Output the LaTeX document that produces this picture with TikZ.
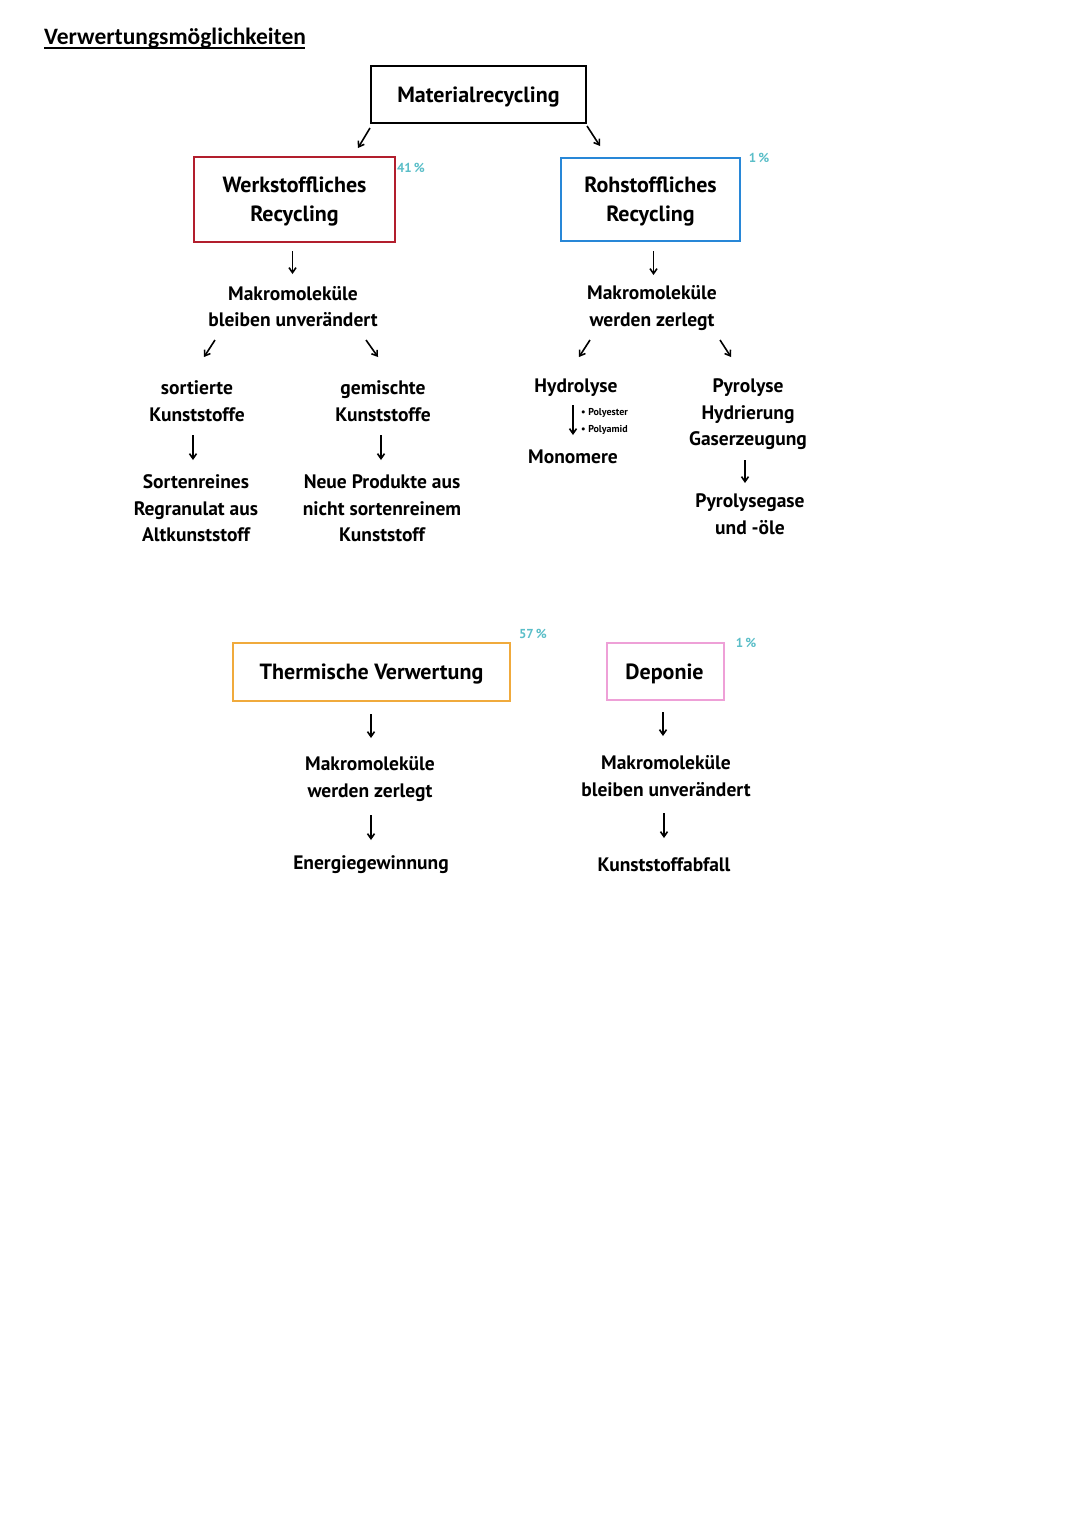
\documentclass[tikz,border=0pt]{standalone}
\usepackage{fontspec}
\setmainfont{PT Sans}
\newfontfamily\titlefont{Carlito}
\usetikzlibrary{arrows.meta}
\definecolor{boxred}{RGB}{178,30,45}
\definecolor{boxblue}{RGB}{40,135,215}
\definecolor{boxorange}{RGB}{240,170,60}
\definecolor{boxpink}{RGB}{238,160,215}
\definecolor{pct}{RGB}{90,190,200}
\tikzset{
  box/.style={draw, line width=2pt, inner sep=0pt},
  boxlbl/.style={inner sep=0pt, font=\bfseries\fontsize{22}{29}\selectfont, align=center},
  txt/.style={inner sep=0pt, align=center, font=\bfseries\fontsize{19.5}{26.5}\selectfont},
  pctlabel/.style={inner sep=0pt, text=pct, font=\bfseries\fontsize{13}{14}\selectfont},
  small/.style={inner sep=0pt, anchor=west, font=\bfseries\fontsize{10}{12}\selectfont},
  arr/.style={line width=1.6pt, -{Straight Barb[length=5pt,width=7pt]}}
}
\begin{document}
\begin{tikzpicture}[x=1pt,y=-1pt]
\useasboundingbox (0,0) rectangle (1080,1527);
\fill[white] (0,0) rectangle (1080,1527);
% title
\node[inner sep=0pt, anchor=base west] (title) at (44,44) {\titlefont\bfseries\fontsize{23.5}{26}\selectfont Verwertungsmöglichkeiten};
\draw[line width=1.8pt] (title.base west) ++(0,4) -- ++(261,0);
% boxes
\node[box, draw=black, minimum width=215pt, minimum height=57pt] (mat) at (478.5,94.5) {};
\node[boxlbl] (matl) at ([yshift=-3pt]mat.center) {Materialrecycling};
\node[box, draw=boxred, minimum width=201pt, minimum height=85pt] (werk) at (294.5,199.5) {};
\node[boxlbl] (werkl) at ([yshift=-2pt]werk.center) {Werkstoffliches\\Recycling};
\node[box, draw=boxblue, minimum width=179pt, minimum height=83pt] (roh) at (650.5,199.5) {};
\node[boxlbl] (rohl) at ([yshift=-2pt]roh.center) {Rohstoffliches\\Recycling};
\node[box, draw=boxorange, minimum width=277pt, minimum height=58pt] (therm) at (371.5,672) {};
\node[boxlbl] (thermlbl) at ([yshift=-2pt]therm.center) {Thermische Verwertung};
\node[box, draw=boxpink, minimum width=117pt, minimum height=57pt] (dep) at (665.5,671.5) {};
\node[boxlbl] (depl) at ([yshift=-2pt,xshift=-1pt]dep.center) {Deponie};
% percentages
\node[pctlabel] (p41) at (411,168) {41\,\%};
\node[pctlabel] (p1a) at (759,158) {1\,\%};
\node[pctlabel] (p57) at (533,634) {57\,\%};
\node[pctlabel] (p1b) at (746,643) {1\,\%};
% texts left branch
\node[txt] (mak1) at (293,306.5) {Makromoleküle\\bleiben unverändert};
\node[txt] (sort) at (197,401) {sortierte\\Kunststoffe};
\node[txt] (gem) at (383,401) {gemischte\\Kunststoffe};
\node[txt] (sortr) at (196,508.5) {Sortenreines\\Regranulat aus\\Altkunststoff};
\node[txt] (neue) at (382,508.5) {Neue Produkte aus\\nicht sortenreinem\\Kunststoff};
% texts right branch
\node[txt] (mak2) at (652,308) {Makromoleküle\\werden zerlegt};
\node[txt] (hydro) at (576,388) {Hydrolyse};
\node[small] (polye) at (581,413) {• Polyester};
\node[small] (polya) at (581,430) {• Polyamid};
\node[txt] (mono) at (573,457) {Monomere};
\node[txt] (pyro) at (748,414.5) {Pyrolyse\\Hydrierung\\Gaserzeugung};
\node[txt] (pgas) at (750,514) {Pyrolysegase\\und -öle};
% bottom texts
\node[txt] (mak3) at (370,779) {Makromoleküle\\werden zerlegt};
\node[txt] (mak4) at (666,776) {Makromoleküle\\bleiben unverändert};
\node[txt] (energ) at (371,865) {Energiegewinnung};
\node[txt] (abfall) at (664,865) {Kunststoffabfall};
% arrows: diagonal
\coordinate (d1s) at (370,128); \coordinate (d1e) at (358,148);
\coordinate (d2s) at (587,126); \coordinate (d2e) at (600,146);
\coordinate (d3s) at (215,340); \coordinate (d3e) at (204,357);
\coordinate (d4s) at (366,340); \coordinate (d4e) at (378,357);
\coordinate (d5s) at (590,340); \coordinate (d5e) at (579,357);
\coordinate (d6s) at (720,340); \coordinate (d6e) at (731,357);
\draw[arr] (d1s) -- (d1e);
\draw[arr] (d2s) -- (d2e);
\draw[arr] (d3s) -- (d3e);
\draw[arr] (d4s) -- (d4e);
\draw[arr] (d5s) -- (d5e);
\draw[arr] (d6s) -- (d6e);
% arrows: vertical
\draw[arr] (werk.south) ++(-2,8) -- ++(0,23);
\draw[arr] (roh.south) ++(3,9) -- ++(0,24);
\draw[arr] (193,435) -- (193,460);
\draw[arr] (381,435) -- (381,460);
\draw[arr] (573,405) -- (573,435);
\draw[arr] (745,460) -- (745,483);
\draw[arr] (therm.south) ++(-0.5,12) -- ++(0,24);
\draw[arr] (dep.south) ++(-2.5,11) -- ++(0,24);
\draw[arr] (371,815) -- (371,840);
\draw[arr] (664,813) -- (664,838);
\end{tikzpicture}
\end{document}
